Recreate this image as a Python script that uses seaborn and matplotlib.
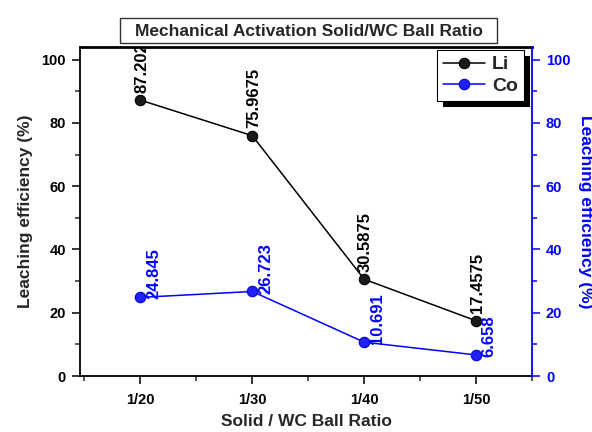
import matplotlib
matplotlib.use("Agg")
import matplotlib.pyplot as plt
import matplotlib.patches as mpatches
import seaborn as sns
import pandas as pd
from matplotlib.ticker import MultipleLocator, FixedLocator

categories = ["1/20", "1/30", "1/40", "1/50"]
li_values = [87.202, 75.9675, 30.5875, 17.4575]
co_values = [24.845, 26.723, 10.691, 6.658]
li_labels = ["87.202", "75.9675", "30.5875", "17.4575"]
co_labels = ["24.845", "26.723", "10.691", "6.658"]

sns.set_theme(style="white")
plt.rcParams['font.family'] = ['Liberation Sans', 'DejaVu Sans']
plt.rcParams['font.weight'] = 'bold'

df = pd.DataFrame({"x": list(range(len(categories))), "Li": li_values, "Co": co_values})

fig = plt.figure(figsize=(5.92, 4.32), dpi=100)
ax = fig.add_axes([80 / 592, 56 / 432, 452 / 592, 329 / 432])
ax2 = ax.twinx()

sns.lineplot(data=df, x="x", y="Li", ax=ax, color="black", marker="o", markersize=7.5,
             markeredgecolor="black", markerfacecolor="#1a1a1a", markeredgewidth=0.8,
             linewidth=1.1, label="Li", legend=False)
sns.lineplot(data=df, x="x", y="Co", ax=ax2, color="blue", marker="o", markersize=7.5,
             markeredgecolor="#0000cc", markerfacecolor="#2020ff", markeredgewidth=0.8,
             linewidth=1.1, label="Co", legend=False)

for i, (v, t) in enumerate(zip(li_values, li_labels)):
    a = ax.annotate(t, (i, v), xytext=(1, 5.5), textcoords="offset points", rotation=90,
                    ha="center", va="bottom", fontsize=12, color="black", fontweight="bold")
    a.set_clip_box(ax.bbox)
    a.set_clip_on(True)
for i, (v, t) in enumerate(zip(co_values, co_labels)):
    ax2.annotate(t, (i, v), xytext=(9.5, -1.5), textcoords="offset points", rotation=90,
                 ha="center", va="bottom", fontsize=12, color="blue", fontweight="bold")

for a in (ax, ax2):
    a.set_xlim(-0.54, 3.5)
    a.set_ylim(0, 104)
    a.yaxis.set_major_locator(MultipleLocator(20))
    a.yaxis.set_minor_locator(MultipleLocator(10))

ax.set_xticks(range(len(categories)))
ax.set_xticklabels(categories)
ax.xaxis.set_minor_locator(FixedLocator([-0.5, 0.5, 1.5, 2.5, 3.5]))

ax.tick_params(axis="both", which="major", direction="out", length=6, width=1.1,
               labelsize=10.5, colors="black", pad=4)
ax.tick_params(axis="both", which="minor", direction="out", length=3.5, width=1.1)
ax.tick_params(axis="x", which="major", pad=6)
ax.tick_params(axis="x", which="both", bottom=True)
ax.tick_params(axis="y", which="both", left=True)
ax2.tick_params(axis="y", which="major", direction="out", length=6, width=1.1,
                labelsize=10.5, colors="blue", pad=4)
ax2.tick_params(axis="y", which="minor", direction="out", length=3.5, width=1.1, colors="blue")

for lab in ax.get_xticklabels() + ax.get_yticklabels() + ax2.get_yticklabels():
    lab.set_fontweight("bold")

for s in ["left", "bottom"]:
    ax.spines[s].set_color("black")
    ax.spines[s].set_linewidth(1.3)
ax.spines["top"].set_color("black")
ax.spines["top"].set_linewidth(2)
ax.spines["right"].set_visible(False)
for s in ["left", "bottom", "top"]:
    ax2.spines[s].set_visible(False)
ax2.spines["right"].set_color("blue")
ax2.spines["right"].set_linewidth(1.3)

ax.set_xlabel("Solid / WC Ball Ratio", fontsize=12.5, fontweight="bold", labelpad=5)
ax.set_ylabel("Leaching efficiency (%)", fontsize=12.5, fontweight="bold", labelpad=6)
ax2.set_ylabel("Leaching efficiency (%)", fontsize=12.5, fontweight="bold", color="blue",
               rotation=270, labelpad=16)

# title with box
fig.patches.append(mpatches.Rectangle((120 / 592, 1 - 43 / 432), 377 / 592, 25 / 432,
                                      transform=fig.transFigure, facecolor="white",
                                      edgecolor="#333333", linewidth=1))
fig.text(309 / 592, 1 - 31 / 432, "Mechanical Activation Solid/WC Ball Ratio", ha="center",
         va="center", fontsize=12.5, fontweight="bold")

ax2.set_zorder(ax.get_zorder() + 1)
ax2.patch.set_visible(False)

h1, l1 = ax.get_legend_handles_labels()
h2, l2 = ax2.get_legend_handles_labels()
leg_kw = dict(borderaxespad=0, fontsize=14, frameon=True, fancybox=False, shadow=False,
              handlelength=2.2, handletextpad=0.35, borderpad=0.3, labelspacing=0.2,
              edgecolor="black", framealpha=1)
ax_bb = ax.get_position()
ax_x = ax_bb.x0 + 0.982 * ax_bb.width
ax_y = ax_bb.y0 + 0.991 * ax_bb.height
leg = fig.legend(h1 + h2, l1 + l2, loc="upper right", bbox_to_anchor=(ax_x, ax_y),
                 bbox_transform=fig.transFigure, **leg_kw)
for t in leg.get_texts():
    t.set_fontweight("bold")
leg.get_frame().set_linewidth(0.8)
leg.set_zorder(20)

fig.canvas.draw()
bb = leg.get_window_extent().transformed(fig.transFigure.inverted())
ox, oy = 6 / 592, 6 / 432
fig.patches.append(mpatches.Rectangle((bb.x0 + ox, bb.y0 - oy), bb.width, bb.height,
                                      transform=fig.transFigure, facecolor="black",
                                      edgecolor="none", zorder=15))

fig.savefig("out.png", dpi=100)
